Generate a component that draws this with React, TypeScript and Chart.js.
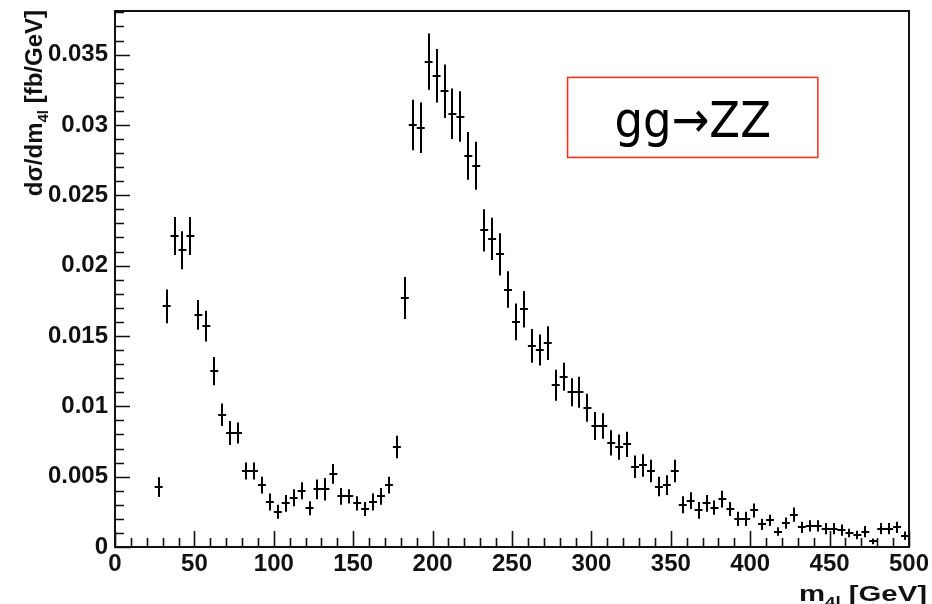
import React, { useEffect, useRef } from "react";
import { Chart, registerables } from "chart.js";

Chart.register(...registerables);

// ---------- data ----------
const massBins = [
  27.5, 32.5, 37.5, 42.5, 47.5, 52.5, 57.5, 62.5, 67.5, 72.5,
  77.5, 82.5, 87.5, 92.5, 97.5, 102.5, 107.5, 112.5, 117.5, 122.5,
  127.5, 132.5, 137.5, 142.5, 147.5, 152.5, 157.5, 162.5, 167.5, 172.5,
  177.5, 182.5, 187.5, 192.5, 197.5, 202.5, 207.5, 212.5, 217.5, 222.5,
  227.5, 232.5, 237.5, 242.5, 247.5, 252.5, 257.5, 262.5, 267.5, 272.5,
  277.5, 282.5, 287.5, 292.5, 297.5, 302.5, 307.5, 312.5, 317.5, 322.5,
  327.5, 332.5, 337.5, 342.5, 347.5, 352.5, 357.5, 362.5, 367.5, 372.5,
  377.5, 382.5, 387.5, 392.5, 397.5, 402.5, 407.5, 412.5, 417.5, 422.5,
  427.5, 432.5, 437.5, 442.5, 447.5, 452.5, 457.5, 462.5, 467.5, 472.5,
  477.5, 482.5, 487.5, 492.5, 497.5,
];

const crossSection = [
  0.00425, 0.0171, 0.0221, 0.0211, 0.0221, 0.0165, 0.0157, 0.0125, 0.0094, 0.0081,
  0.0081, 0.0054, 0.0054, 0.0044, 0.0032, 0.0025, 0.0031, 0.0035, 0.0040, 0.00275,
  0.0041, 0.0041, 0.0052, 0.0036, 0.0036, 0.0031, 0.0027, 0.0032, 0.0036, 0.0044,
  0.0071, 0.0177, 0.0300, 0.0298, 0.0345, 0.0335, 0.0324, 0.0308, 0.0306, 0.0278,
  0.0271, 0.0225, 0.0219, 0.0208, 0.0183, 0.0160, 0.0169, 0.0143, 0.0140, 0.0145,
  0.0115, 0.0121, 0.0110, 0.0110, 0.0099, 0.0086, 0.0086, 0.0074, 0.0071, 0.0073,
  0.0057, 0.0058, 0.0054, 0.0043, 0.0044, 0.0054, 0.0030, 0.0033, 0.0026, 0.0031,
  0.0028, 0.0034, 0.0027, 0.0020, 0.0020, 0.0026, 0.0016, 0.0019, 0.0011, 0.0017,
  0.0023, 0.0014, 0.0015, 0.0015, 0.0013, 0.0013, 0.0012, 0.0010, 0.00085, 0.0011,
  0.0004, 0.0013, 0.0013, 0.0014, 0.0008,
];

const statErrors = [
  0.0007, 0.0012, 0.00135, 0.00135, 0.00135, 0.00105, 0.0011, 0.001, 0.0008, 0.00085,
  0.00075, 0.0006, 0.0006, 0.0006, 0.0006, 0.0005, 0.0006, 0.0006, 0.0006, 0.0005,
  0.0007, 0.0008, 0.0007, 0.0006, 0.0005, 0.0005, 0.0005, 0.0006, 0.0006, 0.0006,
  0.0008, 0.0015, 0.0018, 0.0018, 0.002, 0.0019, 0.0019, 0.0018, 0.0018, 0.0017,
  0.0017, 0.0015, 0.0015, 0.0015, 0.0013, 0.0013, 0.0013, 0.0012, 0.0011, 0.0012,
  0.0011, 0.001, 0.001, 0.0011, 0.001, 0.001, 0.0009, 0.0009, 0.0009, 0.0009,
  0.0008, 0.0008, 0.0008, 0.0007, 0.0007, 0.0008, 0.0006, 0.0006, 0.0006, 0.0006,
  0.0005, 0.0006, 0.0005, 0.0005, 0.0005, 0.0005, 0.0004, 0.0004, 0.0003, 0.0004,
  0.0005, 0.0004, 0.0004, 0.0004, 0.0004, 0.0004, 0.0004, 0.0003, 0.0003, 0.0004,
  0.0002, 0.0004, 0.0004, 0.0004, 0.0003,
];

const binHalfWidth = 2.5;

const xTickValues = [0, 50, 100, 150, 200, 250, 300, 350, 400, 450, 500];
const yTickValues = [0, 0.005, 0.01, 0.015, 0.02, 0.025, 0.03, 0.035];
const yTickLabels = ["0", "0.005", "0.01", "0.015", "0.02", "0.025", "0.03", "0.035"];
const xMinorStep = 10;
const yMinorStep = 0.001;
const xMin = 0;
const xMax = 500;
const yMin = 0;
const yMax = 0.0381;

const xTitleParts = ["m", "4l", " [GeV]"];
const yTitleParts = ["dσ/dm", "4l", " [fb/GeV]"];
const annotationText = "gg→ZZ";
// annotation box corners in data coordinates
const annotationX = [285, 442.6];
const annotationY = [0.02769, 0.03338];

// ---------- drawing plugin ----------
const rootStylePlugin = {
  id: "rootStyle",
  afterDatasetsDraw(chart: any) {
    const ctx: CanvasRenderingContext2D = chart.ctx;
    const xs = chart.scales.x;
    const ys = chart.scales.y;
    const area = chart.chartArea;

    // error-bar crosses
    ctx.save();
    ctx.beginPath();
    ctx.rect(area.left, area.top, area.right - area.left, area.bottom - area.top);
    ctx.clip();
    ctx.strokeStyle = "#000";
    ctx.lineWidth = 2;
    ctx.beginPath();
    for (let i = 0; i < massBins.length; i++) {
      const x = massBins[i];
      const y = crossSection[i];
      const e = statErrors[i];
      const px = Math.round(xs.getPixelForValue(x));
      const py = Math.round(ys.getPixelForValue(y));
      ctx.moveTo(px, ys.getPixelForValue(y - e));
      ctx.lineTo(px, ys.getPixelForValue(y + e));
      ctx.moveTo(xs.getPixelForValue(x - binHalfWidth), py);
      ctx.lineTo(xs.getPixelForValue(x + binHalfWidth), py);
    }
    ctx.stroke();
    ctx.restore();

    // frame
    ctx.save();
    ctx.strokeStyle = "#111";
    ctx.lineWidth = 2;
    ctx.strokeRect(area.left, area.top, area.right - area.left, area.bottom - area.top);

    // inward ticks
    ctx.lineWidth = 1.6;
    ctx.beginPath();
    for (let v = xMin; v <= xMax + 1e-9; v += xMinorStep) {
      const px = Math.round(xs.getPixelForValue(v)) + 0.5;
      const major = xTickValues.some((t) => Math.abs(t - v) < 1e-6);
      ctx.moveTo(px, area.bottom);
      ctx.lineTo(px, area.bottom - (major ? 16 : 9));
    }
    for (let k = 0; k * yMinorStep <= yMax + 1e-12; k++) {
      const v = k * yMinorStep;
      const py = Math.round(ys.getPixelForValue(v)) + 0.5;
      const major = yTickValues.some((t) => Math.abs(t - v) < 1e-9);
      ctx.moveTo(area.left, py);
      ctx.lineTo(area.left + (major ? 15 : 9), py);
    }
    ctx.stroke();
    ctx.restore();

    // axis titles
    const mainFont = "bold 24px 'Liberation Sans', Arial, sans-serif";
    const subFont = "bold 15px 'Liberation Sans', Arial, sans-serif";
    ctx.save();
    ctx.fillStyle = "#111";
    ctx.textBaseline = "alphabetic";
    ctx.textAlign = "left";
    // y title
    ctx.font = mainFont;
    const w0 = ctx.measureText(yTitleParts[0]).width;
    const w2 = ctx.measureText(yTitleParts[2]).width;
    ctx.font = subFont;
    const w1 = ctx.measureText(yTitleParts[1]).width;
    const total = w0 + w1 + w2;
    ctx.save();
    ctx.translate(42, 10);
    ctx.rotate(-Math.PI / 2);
    let cx = -total;
    ctx.font = mainFont;
    ctx.fillText(yTitleParts[0], cx, 0);
    cx += w0;
    ctx.font = subFont;
    ctx.fillText(yTitleParts[1], cx, 6);
    cx += w1;
    ctx.font = mainFont;
    ctx.fillText(yTitleParts[2], cx, 0);
    ctx.restore();

    // x title
    const xFont = "bold 22px 'Liberation Sans', Arial, sans-serif";
    const xSub = "bold 14px 'Liberation Sans', Arial, sans-serif";
    ctx.font = xFont;
    const a0 = ctx.measureText(xTitleParts[0]).width;
    const a2 = ctx.measureText(xTitleParts[2]).width;
    ctx.font = xSub;
    const a1 = ctx.measureText(xTitleParts[1]).width;
    const xtotal = a0 + a1 + a2;
    const targetW = 128;
    const sx = targetW / xtotal;
    ctx.save();
    ctx.translate(area.right + 18 - targetW, 601);
    ctx.scale(sx, 1);
    let tx = 0;
    ctx.font = xFont;
    ctx.fillText(xTitleParts[0], tx, 0);
    tx += a0;
    ctx.font = xSub;
    ctx.fillText(xTitleParts[1], tx, 6);
    tx += a1;
    ctx.font = xFont;
    ctx.fillText(xTitleParts[2], tx, 0);
    ctx.restore();
    ctx.restore();

    // annotation box
    const bx0 = xs.getPixelForValue(annotationX[0]);
    const bx1 = xs.getPixelForValue(annotationX[1]);
    const by0 = ys.getPixelForValue(annotationY[1]);
    const by1 = ys.getPixelForValue(annotationY[0]);
    ctx.save();
    ctx.fillStyle = "#fff";
    ctx.fillRect(bx0, by0, bx1 - bx0, by1 - by0);
    ctx.strokeStyle = "#ff2a10";
    ctx.lineWidth = 1.5;
    ctx.strokeRect(bx0, by0, bx1 - bx0, by1 - by0);
    ctx.fillStyle = "#000";
    ctx.font = "50px 'DejaVu Sans Condensed', 'DejaVu Sans', sans-serif";
    ctx.textAlign = "center";
    ctx.textBaseline = "alphabetic";
    ctx.fillText(annotationText, (bx0 + bx1) / 2, by1 - 20);
    ctx.restore();
  },
};

export default function App() {
  const canvasRef = useRef<HTMLCanvasElement | null>(null);

  useEffect(() => {
    document.body.style.margin = "0";
    document.body.style.background = "#fff";
    const canvas = canvasRef.current;
    if (!canvas) return;
    const tickFont = { family: "'Liberation Sans', Arial, sans-serif", size: 24, weight: "bold" as const };
    const chart = new Chart(canvas, {
      type: "scatter",
      data: {
        datasets: [
          {
            label: "gg→ZZ",
            data: massBins.map((x, i) => ({ x, y: crossSection[i] })),
            pointRadius: 0,
            showLine: false,
          },
        ],
      },
      options: {
        responsive: false,
        animation: false,
        events: [],
        layout: { padding: { left: 0, top: 11, right: 23, bottom: 0 } },
        plugins: { legend: { display: false }, tooltip: { enabled: false } },
        scales: {
          x: {
            type: "linear",
            min: xMin,
            max: xMax,
            grid: { display: false, drawTicks: false },
            border: { display: false },
            afterBuildTicks: (s: any) => {
              s.ticks = xTickValues.map((v) => ({ value: v }));
            },
            afterFit: (s: any) => {
              s.height = 57;
              s.paddingLeft = 0;
              s.paddingRight = 0;
              s.paddingTop = 0;
              s.paddingBottom = 0;
            },
            ticks: {
              font: tickFont,
              color: "#111",
              padding: 3,
              maxRotation: 0,
              autoSkip: false,
              callback: (v: any) => String(v),
            },
          },
          y: {
            type: "linear",
            min: yMin,
            max: yMax,
            grid: { display: false, drawTicks: false },
            border: { display: false },
            afterBuildTicks: (s: any) => {
              s.ticks = yTickValues.map((v) => ({ value: v }));
            },
            afterFit: (s: any) => {
              s.width = 115;
              s.paddingLeft = 0;
              s.paddingRight = 0;
              s.paddingTop = 0;
              s.paddingBottom = 0;
            },
            ticks: {
              font: tickFont,
              color: "#111",
              padding: 7,
              autoSkip: false,
              callback: (v: any) => {
                const idx = yTickValues.findIndex((t) => Math.abs(t - v) < 1e-9);
                return idx >= 0 ? yTickLabels[idx] : "";
              },
            },
          },
        },
      },
      plugins: [rootStylePlugin],
    });
    return () => chart.destroy();
  }, []);

  return (
    <div style={{ width: 932, height: 604, background: "#fff" }}>
      <canvas ref={canvasRef} width={932} height={604} style={{ display: "block" }} />
    </div>
  );
}
